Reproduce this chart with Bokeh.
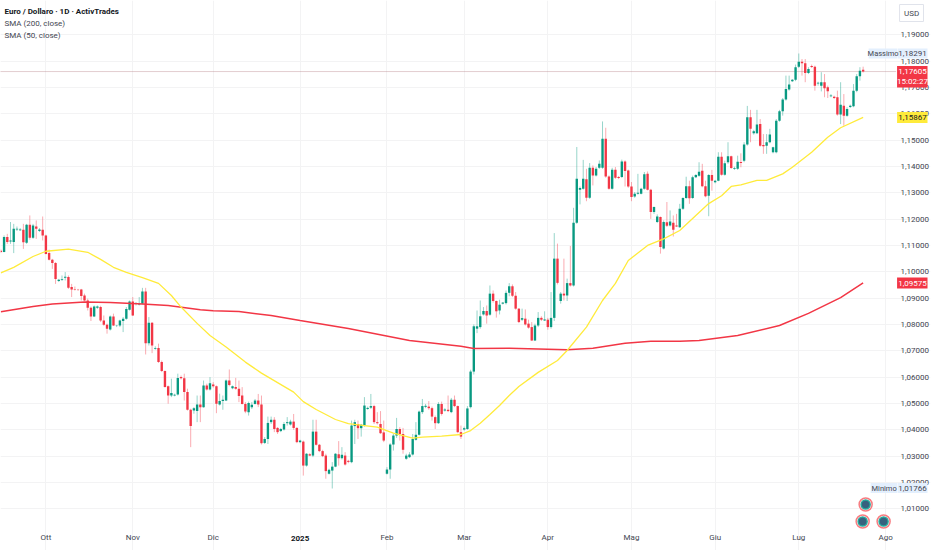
from bokeh.plotting import figure
from bokeh.models import ColumnDataSource, FixedTicker
from bokeh.core.properties import value
from bokeh.embed import file_html
from bokeh.resources import INLINE

# Bar numbers: 0 is 1 October 2024; the feed has Sunday bars.
first_bar = -14
opens = [
1.1080,1.1075,1.1132,1.1115,1.1113,1.1161,1.1158,1.1160,1.1110,1.1179,
1.1129,1.1172,1.1155,1.1160,1.1138,1.1071,1.1046,1.1033,1.0965,1.0970,
1.0977,1.0980,1.0942,1.0935,1.0933,1.0933,1.0910,1.0891,1.0863,1.0830,
1.0863,1.0866,1.0815,1.0799,1.0781,1.0830,1.0794,1.0796,1.0813,1.0822,
1.0856,1.0887,1.0879,1.0876,1.0879,1.0925,1.0729,1.0806,1.0708,1.0711,
1.0657,1.0623,1.0565,1.0530,1.0530,1.0534,1.0600,1.0596,1.0543,1.0476,
1.0473,1.0471,1.0496,1.0486,1.0568,1.0553,1.0572,1.0565,1.0496,1.0509,
1.0511,1.0587,1.0558,1.0562,1.0556,1.0530,1.0498,1.0467,1.0486,1.0498,
1.0511,1.0496,1.0350,1.0365,1.0429,1.0438,1.0407,1.0395,1.0401,1.0425,
1.0420,1.0431,1.0407,1.0353,1.0355,1.0264,1.0307,1.0302,1.0393,1.0343,
1.0319,1.0302,1.0233,1.0245,1.0260,1.0307,1.0292,1.0302,1.0282,1.0277,
1.0414,1.0422,1.0406,1.0416,1.0479,1.0484,1.0490,1.0429,1.0422,1.0390,
1.0233,1.0249,1.0344,1.0378,1.0403,1.0384,1.0290,1.0296,1.0306,1.0362,
1.0381,1.0467,1.0487,1.0488,1.0482,1.0448,1.0425,1.0498,1.0473,1.0476,
1.0467,1.0514,1.0490,1.0391,1.0401,1.0403,1.0486,1.0621,1.0784,1.0790,
1.0838,1.0851,1.0837,1.0917,1.0889,1.0853,1.0879,1.0881,1.0920,1.0945,
1.0909,1.0860,1.0818,1.0822,1.0803,1.0790,1.0739,1.0796,1.0825,1.0815,
1.0818,1.0790,1.0825,1.1050,1.0889,1.0917,1.0910,1.0957,1.0948,1.1186,
1.1312,1.1315,1.1351,1.1281,1.1395,1.1366,1.1395,1.1395,1.1505,1.1362,
1.1315,1.1388,1.1360,1.1360,1.1419,1.1385,1.1324,1.1286,1.1296,1.1296,
1.1315,1.1372,1.1312,1.1227,1.1189,1.1208,1.1088,1.1188,1.1176,1.1186,
1.1176,1.1169,1.1239,1.1280,1.1325,1.1280,1.1359,1.1365,1.1384,1.1325,
1.1289,1.1368,1.1340,1.1346,1.1437,1.1369,1.1416,1.1439,1.1391,1.1391,
1.1417,1.1422,1.1483,1.1587,1.1526,1.1526,1.1561,1.1482,1.1479,1.1492,
1.1454,1.1454,1.1574,1.1610,1.1654,1.1692,1.1724,1.1729,1.1779,1.1798,
1.1792,1.1755,1.1782,1.1779,1.1715,1.1707,1.1720,1.1701,1.1667,1.1665,
1.1663,1.1597,1.1631,1.1593,1.1626,1.1629,1.1688,1.1743,1.1767]
highs = [
1.1085,1.1138,1.1144,1.1189,1.1182,1.1172,1.1166,1.1182,1.1182,1.1214,
1.1182,1.1195,1.1166,1.1210,1.1141,1.1084,1.1049,1.1037,1.0973,1.0986,
1.0999,1.0986,1.0954,1.0944,1.0935,1.0935,1.0917,1.0898,1.0868,1.0872,
1.0872,1.0871,1.0834,1.0803,1.0834,1.0841,1.0798,1.0818,1.0828,1.0866,
1.0891,1.0904,1.0885,1.0904,1.0939,1.0939,1.0828,1.0809,1.0717,1.0727,
1.0663,1.0625,1.0568,1.0594,1.0537,1.0613,1.0606,1.0613,1.0556,1.0480,
1.0486,1.0530,1.0530,1.0587,1.0575,1.0600,1.0581,1.0568,1.0537,1.0530,
1.0591,1.0629,1.0568,1.0597,1.0587,1.0562,1.0505,1.0507,1.0505,1.0517,
1.0536,1.0530,1.0372,1.0450,1.0450,1.0448,1.0410,1.0407,1.0429,1.0448,
1.0438,1.0460,1.0410,1.0362,1.0359,1.0311,1.0311,1.0438,1.0438,1.0346,
1.0324,1.0309,1.0252,1.0277,1.0311,1.0357,1.0334,1.0315,1.0286,1.0435,
1.0438,1.0435,1.0422,1.0524,1.0488,1.0536,1.0495,1.0467,1.0471,1.0435,
1.0258,1.0349,1.0384,1.0445,1.0410,1.0407,1.0309,1.0315,1.0384,1.0429,
1.0473,1.0517,1.0498,1.0509,1.0488,1.0454,1.0505,1.0507,1.0482,1.0530,
1.0521,1.0530,1.0492,1.0416,1.0412,1.0490,1.0628,1.0800,1.0853,1.0891,
1.0866,1.0872,1.0948,1.0929,1.0891,1.0894,1.0885,1.0929,1.0957,1.0952,
1.0923,1.0862,1.0860,1.0857,1.0818,1.0809,1.0803,1.0847,1.0831,1.0850,
1.0825,1.0923,1.1147,1.1107,1.0923,1.1050,1.0974,1.1098,1.1243,1.1474,
1.1324,1.1425,1.1391,1.1413,1.1404,1.1398,1.1423,1.1571,1.1547,1.1366,
1.1395,1.1398,1.1364,1.1426,1.1423,1.1388,1.1341,1.1303,1.1372,1.1319,
1.1379,1.1381,1.1315,1.1248,1.1218,1.1210,1.1195,1.1265,1.1233,1.1214,
1.1220,1.1258,1.1283,1.1361,1.1346,1.1365,1.1371,1.1416,1.1410,1.1346,
1.1371,1.1387,1.1349,1.1454,1.1454,1.1422,1.1492,1.1441,1.1399,1.1441,
1.1450,1.1492,1.1630,1.1615,1.1539,1.1615,1.1580,1.1523,1.1523,1.1543,
1.1475,1.1580,1.1615,1.1660,1.1745,1.1745,1.1732,1.1787,1.18291,1.1808,
1.1808,1.1777,1.1787,1.1783,1.1722,1.1758,1.1751,1.1707,1.1675,1.1669,
1.1688,1.1720,1.1675,1.1625,1.1635,1.1713,1.1751,1.1777,1.1779]
lows = [
1.1071,1.1074,1.1106,1.1106,1.1071,1.1155,1.1155,1.1087,1.1106,1.1122,
1.1125,1.1125,1.1151,1.1119,1.1066,1.1043,1.1011,1.0954,1.0961,1.0965,
1.0967,1.0935,1.0904,1.0929,1.0927,1.0891,1.0889,1.0853,1.0813,1.0828,
1.0859,1.0809,1.0795,1.0765,1.0777,1.0794,1.0790,1.0790,1.0771,1.0818,
1.0853,1.0832,1.0872,1.0872,1.0876,1.0686,1.0720,1.0691,1.0704,1.0654,
1.0619,1.0560,1.0499,1.0524,1.0527,1.0530,1.0591,1.0511,1.0473,1.0334,
1.0461,1.0429,1.0429,1.0484,1.0549,1.0549,1.0560,1.0463,1.0492,1.0476,
1.0509,1.0565,1.0554,1.0552,1.0505,1.0496,1.0463,1.0454,1.0479,1.0496,
1.0486,1.0344,1.0346,1.0346,1.0422,1.0391,1.0384,1.0391,1.0397,1.0416,
1.0416,1.0400,1.0349,1.0349,1.0226,1.0260,1.0300,1.0296,1.0340,1.0315,
1.0296,1.0214,1.0230,1.0177,1.0258,1.0264,1.0287,1.0264,1.0273,1.0273,
1.0346,1.0365,1.0374,1.0412,1.0476,1.0479,1.0422,1.0420,1.0384,1.0353,
1.0230,1.0214,1.0321,1.0369,1.0359,1.0309,1.0286,1.0293,1.0302,1.0359,
1.0378,1.0460,1.0482,1.0476,1.0435,1.0403,1.0422,1.0454,1.0469,1.0467,
1.0463,1.0486,1.0387,1.0365,1.0397,1.0400,1.0481,1.0610,1.0767,1.0784,
1.0834,1.0803,1.0833,1.0883,1.0826,1.0838,1.0876,1.0876,1.0907,1.0904,
1.0856,1.0805,1.0813,1.0796,1.0784,1.0737,1.0737,1.0790,1.0813,1.0813,
1.0780,1.0784,1.0813,1.0952,1.0879,1.0891,1.0889,1.0944,1.0944,1.1182,
1.1256,1.1312,1.1268,1.1277,1.1328,1.1362,1.1391,1.1391,1.1357,1.1312,
1.1312,1.1353,1.1352,1.1356,1.1324,1.1319,1.1268,1.1281,1.1293,1.1294,
1.1312,1.1309,1.1201,1.1220,1.1185,1.1069,1.1085,1.1170,1.1172,1.1134,
1.1170,1.1167,1.1235,1.1277,1.1258,1.1277,1.1356,1.1361,1.1321,1.1283,
1.1211,1.1308,1.1336,1.1344,1.1365,1.1365,1.1410,1.1391,1.1387,1.1387,
1.1397,1.1416,1.1479,1.1492,1.1521,1.1523,1.1475,1.1448,1.1448,1.1488,
1.1450,1.1450,1.1570,1.1593,1.1650,1.1688,1.1721,1.1724,1.1774,1.1745,
1.1720,1.1751,1.1774,1.1688,1.1707,1.1685,1.1663,1.1660,1.1663,1.1656,
1.1593,1.1561,1.1555,1.1589,1.1622,1.1625,1.1682,1.1726,1.1757]
closes = [
1.1075,1.1132,1.1113,1.1119,1.1163,1.1163,1.1161,1.1112,1.1179,1.1129,
1.1176,1.1163,1.1161,1.1138,1.1068,1.1046,1.1033,1.0973,1.0970,1.0973,
1.0981,1.0939,1.0933,1.0933,1.0932,1.0908,1.0891,1.0863,1.0830,1.0868,
1.0868,1.0815,1.0799,1.0784,1.0830,1.0796,1.0795,1.0815,1.0822,1.0859,
1.0887,1.0834,1.0881,1.0879,1.0925,1.0729,1.0806,1.0720,1.0711,1.0657,
1.0623,1.0562,1.0530,1.0540,1.0533,1.0597,1.0596,1.0543,1.0476,1.0414,
1.0482,1.0496,1.0486,1.0568,1.0553,1.0577,1.0565,1.0499,1.0509,1.0514,
1.0587,1.0570,1.0565,1.0556,1.0528,1.0498,1.0469,1.0502,1.0495,1.0511,
1.0496,1.0349,1.0365,1.0426,1.0438,1.0403,1.0391,1.0403,1.0422,1.0429,
1.0431,1.0407,1.0353,1.0359,1.0264,1.0309,1.0302,1.0393,1.0343,1.0319,
1.0300,1.0243,1.0248,1.0260,1.0309,1.0292,1.0305,1.0268,1.0278,1.0416,
1.0429,1.0406,1.0419,1.0492,1.0483,1.0490,1.0429,1.0425,1.0387,1.0359,
1.0249,1.0344,1.0378,1.0403,1.0384,1.0324,1.0302,1.0306,1.0365,1.0381,
1.0469,1.0490,1.0491,1.0482,1.0450,1.0425,1.0498,1.0460,1.0477,1.0471,
1.0514,1.0490,1.0391,1.0374,1.0406,1.0481,1.0621,1.0793,1.0793,1.0831,
1.0851,1.0834,1.0917,1.0889,1.0850,1.0875,1.0883,1.0920,1.0945,1.0909,
1.0860,1.0809,1.0824,1.0800,1.0788,1.0739,1.0796,1.0825,1.0818,1.0819,
1.0790,1.0825,1.1050,1.0958,1.0917,1.0910,1.0957,1.0948,1.1186,1.1353,
1.1318,1.1353,1.1281,1.1395,1.1366,1.1391,1.1410,1.1505,1.1362,1.1315,
1.1388,1.1357,1.1356,1.1419,1.1383,1.1324,1.1284,1.1296,1.1300,1.1315,
1.1370,1.1312,1.1227,1.1246,1.1210,1.1094,1.1189,1.1175,1.1191,1.1160,
1.1172,1.1239,1.1280,1.1325,1.1279,1.1359,1.1368,1.1380,1.1325,1.1287,
1.1368,1.1346,1.1346,1.1437,1.1369,1.1412,1.1439,1.1394,1.1394,1.1418,
1.1413,1.1483,1.1587,1.1543,1.1534,1.1559,1.1479,1.1477,1.1492,1.1521,
1.1473,1.1574,1.1610,1.1654,1.1694,1.1711,1.1729,1.1777,1.1798,1.1792,
1.1755,1.1770,1.1778,1.1707,1.1718,1.1720,1.1697,1.1686,1.1670,1.1660,
1.1597,1.1634,1.1593,1.1618,1.1631,1.1688,1.1743,1.1764,1.17605]

sma50_bar = [-14,-10,-4,0,7,13,17,21,25,30,35,39,42,47,51,56,62,67,77,80,84,90,94,99,103,108,114,117,123,129,132,135,138,141,144,147,153,159,162,168,173,177,181,187,192,197,202,206,210,213,216,221,224,229,232,238,243,247,254]
sma50_val = [1.0996,1.1017,1.1058,1.1078,1.1086,1.1074,1.1047,1.1017,1.0998,1.0978,1.0956,1.0910,1.0866,1.0804,1.0758,1.0714,1.0657,1.0615,1.0543,1.0507,1.0477,1.0439,1.0423,1.0416,1.0410,1.0387,1.0368,1.0372,1.0376,1.0382,1.0397,1.0425,1.0458,1.0492,1.0530,1.0564,1.0618,1.0663,1.0701,1.0790,1.0891,1.0956,1.1043,1.1100,1.1125,1.1157,1.1214,1.1259,1.1289,1.1324,1.1330,1.1347,1.1347,1.1372,1.1397,1.1454,1.1511,1.1547,1.15867]
sma200_bar = [-14,-4,2,12,20,30,38,48,52,60,70,79,94,113,129,133,144,162,170,180,188,197,203,215,228,237,247,254]
sma200_val = [1.0848,1.0868,1.0878,1.0885,1.0883,1.0878,1.0872,1.0856,1.0852,1.0849,1.0834,1.0815,1.0785,1.0739,1.0717,1.0709,1.0710,1.0704,1.0710,1.0729,1.0736,1.0736,1.0739,1.0758,1.0796,1.0842,1.0902,1.09575]

price_ticks = [1.01,1.02,1.03,1.04,1.05,1.06,1.07,1.08,1.09,1.10,1.11,1.12,1.13,1.14,1.15,1.16,1.17,1.18,1.19]
price_labels = ["1,01000","1,02000","1,03000","1,04000","1,05000","1,06000","1,07000","1,08000","1,09000","1,10000","1,11000","1,12000","1,13000","1,14000","1,15000","1,16000","1,17000","1,18000","1,19000"]
month_ticks = [0,27,52,79,106,130,156,182,208,234,261]
month_labels = ["Ott","Nov","Dic"," ","Feb","Mar","Apr","Mag","Giu","Lug","Ago"]
last_price = 1.17605

GREEN = "#089981"
RED = "#F23645"
YELLOW = "#FFEB3B"
BLUE = "#e3effd"
FONT = "Roboto"
TEXT = "#434651"

bars = list(range(first_bar, first_bar + len(closes)))
colors = [GREEN if c >= o else RED for o, c in zip(opens, closes)]
src = ColumnDataSource(dict(x=bars, o=opens, h=highs, l=lows, c=closes, color=colors))

# Placement helpers for the chart furniture, from picture pixels to the chart's scales.
def bx(px):
    return (px - 45.5) / 3.2244
def py(y):
    return 1.13 - (y - 192.3) / 2633.0

p = figure(width=932, height=550, output_backend="svg", toolbar_location=None,
           x_range=(bx(0), bx(932)), y_range=(py(550), py(0)),
           y_axis_location="right", min_border=0,
           background_fill_color="#ffffff", border_fill_color="#ffffff",
           outline_line_color=None,
           styles={"position": "absolute", "left": "0px", "top": "0px"})

p.yaxis.ticker = FixedTicker(ticks=price_ticks)
p.yaxis.major_label_overrides = dict(zip(price_ticks, price_labels))
p.xaxis.ticker = FixedTicker(ticks=month_ticks)
p.xaxis.major_label_overrides = dict(zip(month_ticks, month_labels))
for ax in (p.xaxis, p.yaxis):
    ax.axis_line_color = None
    ax.major_tick_line_color = None
    ax.minor_tick_line_color = None
    ax.major_tick_out = 0
    ax.major_tick_in = 0
    ax.major_label_text_font = FONT
    ax.major_label_text_font_size = "8px"
    ax.major_label_text_color = TEXT
p.yaxis.major_label_standoff = -30
p.xaxis.major_label_standoff = -18
p.grid.grid_line_color = "#f3f3f4"
p.grid.grid_line_width = 1

# Grid stops at the price and time scales.
p.quad(left=[bx(898)], right=[bx(932)], bottom=[py(550)], top=[py(0)], fill_color="#ffffff", line_color=None, level="underlay")
p.quad(left=[bx(0)], right=[bx(932)], bottom=[py(550)], top=[py(525)], fill_color="#ffffff", line_color=None, level="underlay")

p.line([bx(0), bx(898)], [last_price, last_price], line_color="#b9858a", line_alpha=0.8, line_width=1, line_dash="1 1")
p.segment("x", "h", "x", "l", source=src, line_color="color", line_alpha=0.42, line_width=1)
p.vbar(x="x", top="o", bottom="c", width=0.74, source=src, fill_color="color", line_color=None)
p.line(sma200_bar, sma200_val, line_color=RED, line_width=1.5)
p.line(sma50_bar, sma50_val, line_color=YELLOW, line_width=1.3)

# Small round markers at the lower right.
for px_, py_ in [(867, 504), (864, 521), (885, 521)]:
    p.scatter([bx(px_)], [py(py_)], size=13, fill_color="#ffffff", line_color="#f77c80", line_width=1.5)
    p.scatter([bx(px_)], [py(py_)], size=9, fill_color="#37617e", line_color="#26a69a", line_width=1.5)

def box(x0, x1, y0, y1, fill, line=None):
    p.quad(left=[bx(x0)], right=[bx(x1)], top=[py(y0)], bottom=[py(y1)], fill_color=fill,
           line_color=line, level="annotation")

def txt(x, y, text, color=TEXT, align="left", size="8px", style="normal"):
    p.text([bx(x)], [py(y)], text=[text], text_align=align, text_baseline="middle",
           text_font=value(FONT), text_font_size=size, text_color=color, text_font_style=style,
           level="annotation")

txt(4, 11, "Euro / Dollaro · 1D · ActivTrades", color="#131722", size="8px", style="bold")
txt(4, 23, "SMA (200, close)", size="8px")
txt(4, 34.5, "SMA (50, close)", size="8px")
txt(300.2, 537.5, "2025", color="#131722", align="center", size="8px", style="bold")

box(901, 925, 4, 21, "#ffffff", "#e0e3eb")
txt(913, 12.5, "USD", align="center")

box(870, 898.5, 48, 58, BLUE)
box(899, 929, 48, 58, BLUE)
txt(884.5, 53, "Massimo", align="center", size="7.5px")
txt(914, 53, "1,18291", align="center", size="8px")

box(898.5, 929, 65.5, 87, RED)
txt(914, 71, "1,17605", color="#ffffff", align="center")
txt(914, 81, "15:02:27", color="#ffffff", align="center")

box(898.5, 929, 111.5, 122.5, YELLOW)
txt(914, 117, "1,15867", color="#131722", align="center")

box(898.5, 929, 277, 288, RED)
txt(914, 282.5, "1,09575", color="#ffffff", align="center")

box(872, 898.5, 482.5, 492.5, BLUE)
box(899, 929, 482.5, 492.5, BLUE)
txt(885.5, 487.5, "Minimo", align="center", size="7.5px")
txt(914, 487.5, "1,01766", align="center")

open("out.html", "w").write(file_html(p, INLINE))
